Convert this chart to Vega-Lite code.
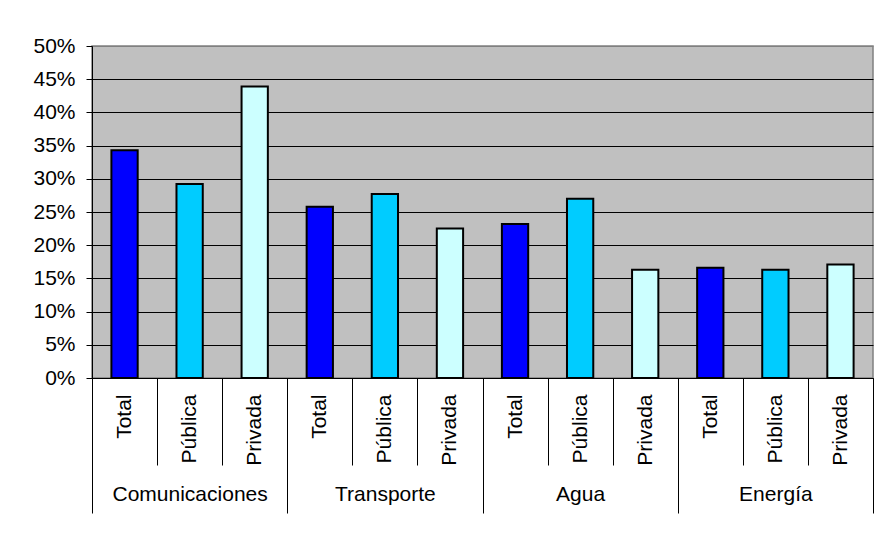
{
  "$schema": "https://vega.github.io/schema/vega-lite/v6.json",
  "autosize": "none",
  "width": 781,
  "height": 332,
  "padding": {"left": 92, "top": 46, "right": 6, "bottom": 156},
  "background": "white",
  "config": {
    "font": "Liberation Sans",
    "view": {"fill": "#C0C0C0", "stroke": "#808080", "strokeWidth": 1.5},
    "axis": {"labelFont": "Liberation Sans", "labelFontSize": 21, "labelColor": "#000", "title": null}
  },
  "data": {
    "values": [
      {"sector": "Comunicaciones", "tipo": "Total", "valor": 0.343},
      {"sector": "Comunicaciones", "tipo": "Pública", "valor": 0.292},
      {"sector": "Comunicaciones", "tipo": "Privada", "valor": 0.439},
      {"sector": "Transporte", "tipo": "Total", "valor": 0.258},
      {"sector": "Transporte", "tipo": "Pública", "valor": 0.277},
      {"sector": "Transporte", "tipo": "Privada", "valor": 0.225},
      {"sector": "Agua", "tipo": "Total", "valor": 0.232},
      {"sector": "Agua", "tipo": "Pública", "valor": 0.270},
      {"sector": "Agua", "tipo": "Privada", "valor": 0.163},
      {"sector": "Energía", "tipo": "Total", "valor": 0.166},
      {"sector": "Energía", "tipo": "Pública", "valor": 0.163},
      {"sector": "Energía", "tipo": "Privada", "valor": 0.171}
    ]
  },
  "resolve": {"scale": {"x": "independent"}, "axis": {"x": "independent"}},
  "layer": [
    {
      "mark": {"type": "bar", "stroke": "#000", "strokeWidth": 2},
      "encoding": {
        "x": {"field": "sector", "type": "nominal", "sort": ["Comunicaciones", "Transporte", "Agua", "Energía"], "scale": {"paddingInner": 0, "paddingOuter": 0}, "axis": null},
        "xOffset": {"field": "tipo", "type": "nominal", "sort": ["Total", "Pública", "Privada"], "scale": {"paddingInner": 0.596, "paddingOuter": 0.298}},
        "y": {
          "field": "valor", "type": "quantitative",
          "scale": {"domain": [0, 0.5], "nice": false},
          "axis": {
            "values": [0, 0.05, 0.1, 0.15, 0.2, 0.25, 0.3, 0.35, 0.4, 0.45, 0.5],
            "format": ".0%",
            "grid": true,
            "gridColor": {"condition": {"test": "datum.value >= 0.499", "value": "#808080"}, "value": "#000"},
            "gridOpacity": 1,
            "gridWidth": 1,
            "domain": true,
            "domainColor": "#000",
            "domainWidth": 1,
            "tickColor": "#000",
            "tickSize": 6,
            "tickWidth": 1,
            "labelPadding": 11
          }
        },
        "color": {
          "field": "tipo", "type": "nominal",
          "scale": {"domain": ["Total", "Pública", "Privada"], "range": ["#0000FF", "#00CCFF", "#CCFFFF"]},
          "legend": null
        }
      }
    },
    {
      "mark": {"type": "point", "opacity": 0},
      "encoding": {
        "x": {"datum": 0, "type": "quantitative", "scale": {"domain": [0, 12], "nice": false, "zero": false},
          "axis": {"orient": "bottom", "values": [0,1,2,3,4,5,6,7,8,9,10,11,12], "labels": false, "grid": false, "domain": true, "domainColor": "#000", "domainWidth": 1, "ticks": true, "tickSize": 87, "tickColor": "#000", "tickWidth": 1}}
      }
    },
    {
      "mark": {"type": "point", "opacity": 0},
      "encoding": {
        "x": {"datum": 0, "type": "quantitative", "scale": {"domain": [0, 12], "nice": false, "zero": false},
          "axis": {"orient": "bottom", "values": [0.5,1.5,2.5,3.5,4.5,5.5,6.5,7.5,8.5,9.5,10.5,11.5], "labelExpr": "['Total','Pública','Privada'][floor(datum.value) % 3]", "labelAngle": 270, "labelPadding": 16, "labelFlush": false, "labelOverlap": false, "labelBound": false, "grid": false, "domain": false, "ticks": false}}
      }
    },
    {
      "mark": {"type": "point", "opacity": 0},
      "encoding": {
        "x": {"datum": 0, "type": "quantitative", "scale": {"domain": [0, 4], "nice": false, "zero": false},
          "axis": {"orient": "bottom", "values": [0,1,2,3,4], "labels": false, "grid": false, "domain": false, "ticks": true, "tickSize": 135, "tickColor": "#000", "tickWidth": 1}}
      }
    },
    {
      "mark": {"type": "point", "opacity": 0},
      "encoding": {
        "x": {"datum": 0, "type": "quantitative", "scale": {"domain": [0, 4], "nice": false, "zero": false},
          "axis": {"orient": "bottom", "values": [0.5,1.5,2.5,3.5], "labelExpr": "['Comunicaciones','Transporte','Agua','Energía'][floor(datum.value)]", "labelPadding": 105, "labelFlush": false, "labelOverlap": false, "labelBound": false, "grid": false, "domain": false, "ticks": false}}
      }
    }
  ]
}
